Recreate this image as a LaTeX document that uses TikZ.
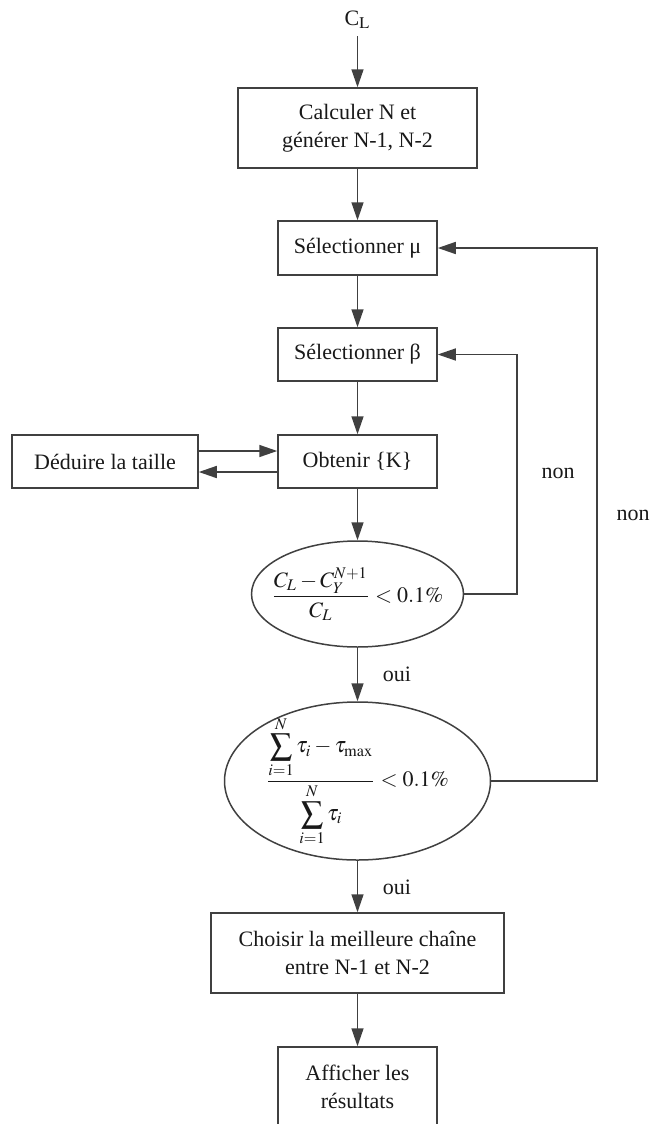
\documentclass[tikz,border=0pt]{standalone}
\usepackage{amsmath}
\usepackage{mathptmx}
\usepackage{fontspec}
\setmainfont{Liberation Serif}
\usetikzlibrary{arrows.meta,shapes.geometric}

\begin{document}
\begin{tikzpicture}[
    x=0.5pt, y=-0.5pt,     % one unit = one pixel, y going down
    font=\fontsize{11}{14}\selectfont,
    every node/.style={text=black!90},
    box/.style={draw=black!75, line width=0.75pt, align=center, inner sep=0pt,
                minimum width=79.5pt, minimum height=26.5pt},   % process box
    test/.style={draw=black!75, line width=0.75pt, ellipse,
                 inner xsep=-30pt, inner ysep=-20pt},           % size set by minimum width/height
    arr/.style={draw=black!75, line width=0.75pt, -{Triangle[length=9pt,width=6pt]}}
  ]
  \useasboundingbox (0,0) rectangle (651,1124);

  % main column
  \node (cl) at (357.5,20) {C$_{\mathrm{L}}$};
  \node[box, minimum width=119.5pt, minimum height=40pt] (calc) at (357.5,128) {Calculer N et\\générer N-1, N-2};
  \node[box, minimum height=27pt] (mu) at (357.5,248) {Sélectionner μ};
  \node[box] (beta) at (357.5,354.5) {Sélectionner β};
  \node[box] (obt) at (357.5,461.5) {Obtenir \{K\}};
  \node[box, minimum width=93pt] (ded) at (105,461.5) {Déduire la taille};
  \node[test, minimum width=106pt, minimum height=53pt] (ell1) at (357.5,594)
    {$\dfrac{C_L-C_Y^{N+1}}{C_L}<0.1\%$};
  \node[test, minimum width=133pt, minimum height=79pt] (ell2) at (357.5,781)
    {$\dfrac{\displaystyle\sum_{i=1}^{N}\tau_i-\tau_{\max}}{\displaystyle\sum_{i=1}^{N}\tau_i}<0.1\%$};
  \node[box, minimum width=146.5pt, minimum height=40pt] (best) at (357.5,953) {Choisir la meilleure chaîne\\entre N-1 et N-2};
  \node[box, minimum height=40pt] (show) at (357.5,1087) {Afficher les\\résultats};

  % labels
  \node (non1) at (558,473) {non};
  \node (non2) at (633,515) {non};
  \node (oui1) at (397,674) {oui};
  \node (oui2) at (397,887) {oui};

  \coordinate (fb1) at (517,0);
  \coordinate (fb2) at (597,0);

  \draw[arr] (cl) -- (calc);
  \draw[arr] (calc) -- (mu);
  \draw[arr] (mu) -- (beta);
  \draw[arr] (beta) -- (obt);
  \draw[arr] ([yshift=5.25pt]ded.east) -- ([yshift=5.25pt]obt.west);
  \draw[arr] ([yshift=-5.25pt]obt.west) -- ([yshift=-5.25pt]ded.east);
  \draw[arr] (obt) -- (ell1);
  \draw[arr] (ell1) -- (ell2);
  \draw[arr] (ell2) -- (best);
  \draw[arr] (best) -- (show);
  \draw[arr] (ell1.east) -- (ell1.east -| fb1) |- (beta.east);  % non: back to beta
  \draw[arr] (ell2.east) -- (ell2.east -| fb2) |- (mu.east);    % non: back to mu
\end{tikzpicture}
\end{document}
